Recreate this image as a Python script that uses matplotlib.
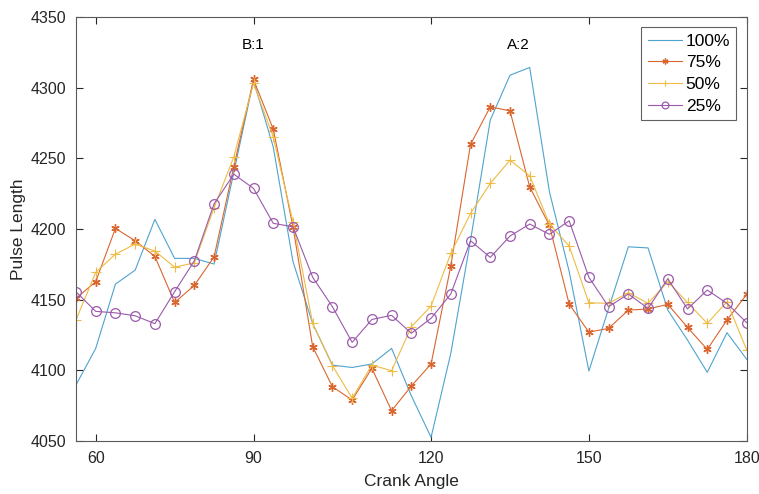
import numpy as np
import matplotlib
matplotlib.use("Agg")
import matplotlib.pyplot as plt

plt.rcParams['font.family'] = ['Liberation Sans', 'DejaVu Sans']

# crank angle ticks (sample index -> label)
tick_idx = [1, 9, 18, 26, 34]
tick_labels = ['60', '90', '120', '150', '180']

p100 = [4089.6, 4115.5, 4161.0, 4170.9, 4206.8, 4179.2, 4179.2, 4175.2, 4240.0, 4305.0,
        4258.0, 4177.0, 4133.0, 4103.7, 4102.0, 4104.5, 4115.5, 4082.0, 4052.6, 4112.0,
        4192.0, 4277.0, 4308.8, 4314.3, 4226.3, 4170.0, 4099.5, 4143.8, 4187.4, 4186.6,
        4142.6, 4121.4, 4098.6, 4126.6, 4107.8]
p75 = [4150.9, 4162.7, 4200.4, 4191.7, 4180.6, 4148.0, 4160.1, 4180.3, 4244.0, 4305.8,
       4270.6, 4201.6, 4116.7, 4088.4, 4079.0, 4101.4, 4071.4, 4088.9, 4104.5, 4173.8,
       4259.8, 4286.4, 4283.6, 4229.8, 4202.5, 4146.9, 4127.0, 4129.7, 4142.6, 4143.4,
       4146.7, 4130.4, 4114.8, 4135.6, 4153.7]
p50 = [4135.6, 4169.3, 4182.2, 4189.3, 4184.4, 4173.0, 4176.0, 4215.0, 4251.0, 4303.0,
       4265.0, 4205.0, 4133.2, 4103.3, 4080.2, 4103.7, 4099.7, 4130.8, 4145.5, 4182.7,
       4211.0, 4232.2, 4248.7, 4237.6, 4203.5, 4187.9, 4147.8, 4147.4, 4154.9, 4147.4,
       4162.7, 4148.0, 4133.2, 4148.5, 4114.4]
p25 = [4155.6, 4141.7, 4140.7, 4138.6, 4133.0, 4155.6, 4177.5, 4217.8, 4238.8, 4228.7,
       4204.0, 4201.6, 4165.8, 4145.0, 4119.8, 4136.0, 4138.9, 4126.2, 4136.8, 4154.0,
       4191.7, 4179.9, 4195.0, 4203.5, 4196.2, 4205.8, 4165.8, 4145.0, 4154.0, 4143.8,
       4164.8, 4143.4, 4156.8, 4147.4, 4133.7]

idx = np.arange(len(p100))

fig = plt.figure(figsize=(7.59, 4.94), dpi=100)
ax = fig.add_axes([0.1001, 0.1073, 0.8837, 0.8583])

ax.plot(idx, p100, color='#4fa3cf', lw=0.8, label='100%')
ax.plot(idx, p75, color='#d9662f', lw=0.8, marker=(6, 2, 0), ms=6, mew=1.0, label='75%')
ax.plot(idx, p50, color='#eebb44', lw=0.8, marker='+', ms=7, mew=0.8, label='50%')
ax.plot(idx, p25, color='#9a5aab', lw=0.8, marker='o', ms=7, mfc='none', mew=0.9, label='25%')

ax.text(9, 4330, 'B:1', ha='center', va='center', fontsize=11)
ax.text(22.4, 4330, 'A:2', ha='center', va='center', fontsize=11)

ax.set_xlim(0, 34)
ax.set_ylim(4050, 4350)
ax.set_xticks(tick_idx)
ax.set_xticklabels(tick_labels)
ax.set_yticks(np.arange(4050, 4351, 50))
ax.tick_params(direction='in', top=True, right=True, length=5, width=0.8,
               labelsize=11.5, colors='#262626', pad=7)
for s in ax.spines.values():
    s.set_color('#5a5a5a')
    s.set_linewidth(0.8)

ax.set_xlabel('Crank Angle', fontsize=12.5, color='#262626', labelpad=6)
ax.set_ylabel('Pulse Length', fontsize=12.5, color='#262626', labelpad=3)

leg = ax.legend(loc='upper right', fontsize=12.5, frameon=True, fancybox=False,
                edgecolor='#3a3a3a', handlelength=2.0, handletextpad=0.2,
                borderpad=0.35, labelspacing=0.38, borderaxespad=0.6, markerscale=0.7)
leg.get_frame().set_linewidth(0.8)

fig.savefig('out.png', dpi=100)
